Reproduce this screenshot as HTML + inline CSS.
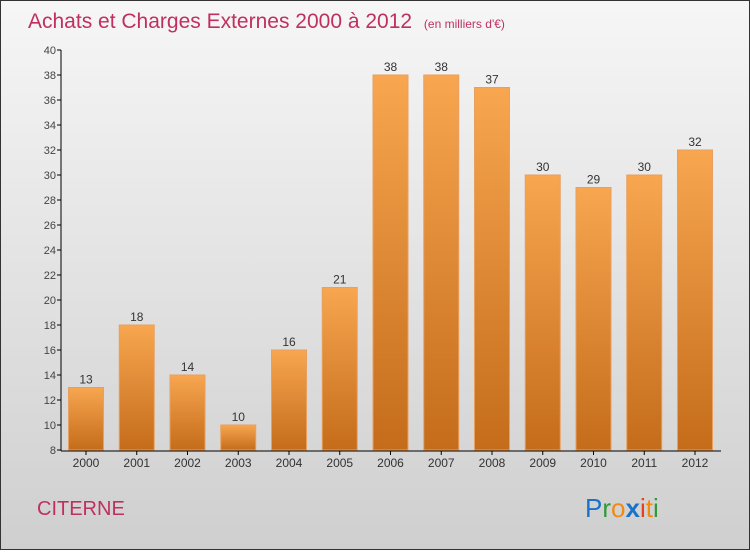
<!DOCTYPE html>
<html><head><meta charset="utf-8"><style>
body{margin:0;width:750px;height:550px;overflow:hidden;font-family:"Liberation Sans",sans-serif}
#c{position:relative;width:748px;height:548px;border:1px solid #333;background:linear-gradient(#f6f6f6,#cfcfcf)}
</style></head><body>
<div id="c">
<svg id="s" width="748" height="548">
<defs><linearGradient id="g" x1="0" y1="0" x2="0" y2="1"><stop offset="0" stop-color="#f8a650"/><stop offset="1" stop-color="#c46c1a"/></linearGradient></defs>
<text x="27" y="27" font-size="21" fill="#c0305f">Achats et Charges Externes 2000 à 2012 <tspan font-size="12" dx="6">(en milliers d'€)</tspan></text>
<text x="36" y="514" font-size="20" fill="#c0305f">CITERNE</text>
<g font-size="26" font-family="Liberation Sans, sans-serif">
<text x="584" y="516"><tspan fill="#1a73c8">P</tspan><tspan fill="#2e9a3a">r</tspan><tspan fill="#f28a12">o</tspan><tspan fill="#1a73c8" font-weight="bold">x</tspan><tspan fill="#e8401c">i</tspan><tspan fill="#f28a12">t</tspan><tspan fill="#2e9a3a">i</tspan></text></g>
<g id="plot"></g>
</svg></div>
<script>
const categories=["2000","2001","2002","2003","2004","2005","2006","2007","2008","2009","2010","2011","2012"];
const values=[13,18,14,10,16,21,38,38,37,30,29,30,32];
const yTicks=[8,10,12,14,16,18,20,22,24,26,28,30,32,34,36,38,40];
const NS="http://www.w3.org/2000/svg";
const p=document.getElementById('plot');
const y=v=>449-(v-8)*12.5;
const x=i=>85+i*50.75;
function mk(t,a){const e=document.createElementNS(NS,t);for(const k in a)e.setAttribute(k,a[k]);p.appendChild(e);return e;}
yTicks.forEach(v=>{
const t=mk('text',{x:55,y:y(v)+4,'font-size':11,fill:'#444','text-anchor':'end'});t.textContent=v;


mk('line',{x1:56,x2:60,y1:y(v),y2:y(v),stroke:'#000'});
});
values.forEach((v,i)=>{
const r=mk('rect',{x:x(i)-17.5,y:y(v),width:35,height:y(8)-y(v),fill:'url(#g)',stroke:'#e8a060','stroke-width':1});


const t=mk('text',{x:x(i),y:y(v)-4,'font-size':12,fill:'#333','text-anchor':'middle'});t.textContent=v;


const c=mk('text',{x:x(i),y:466,'font-size':12,fill:'#333','text-anchor':'middle'});c.textContent=categories[i];


mk('line',{x1:x(i),x2:x(i),y1:450,y2:454,stroke:'#000'});
});
const ya=mk('line',{x1:60,x2:60,y1:49,y2:450,stroke:'#000'});


const xa=mk('line',{x1:60,x2:720,y1:450,y2:450,stroke:'#000'});


</script>
</body></html>
